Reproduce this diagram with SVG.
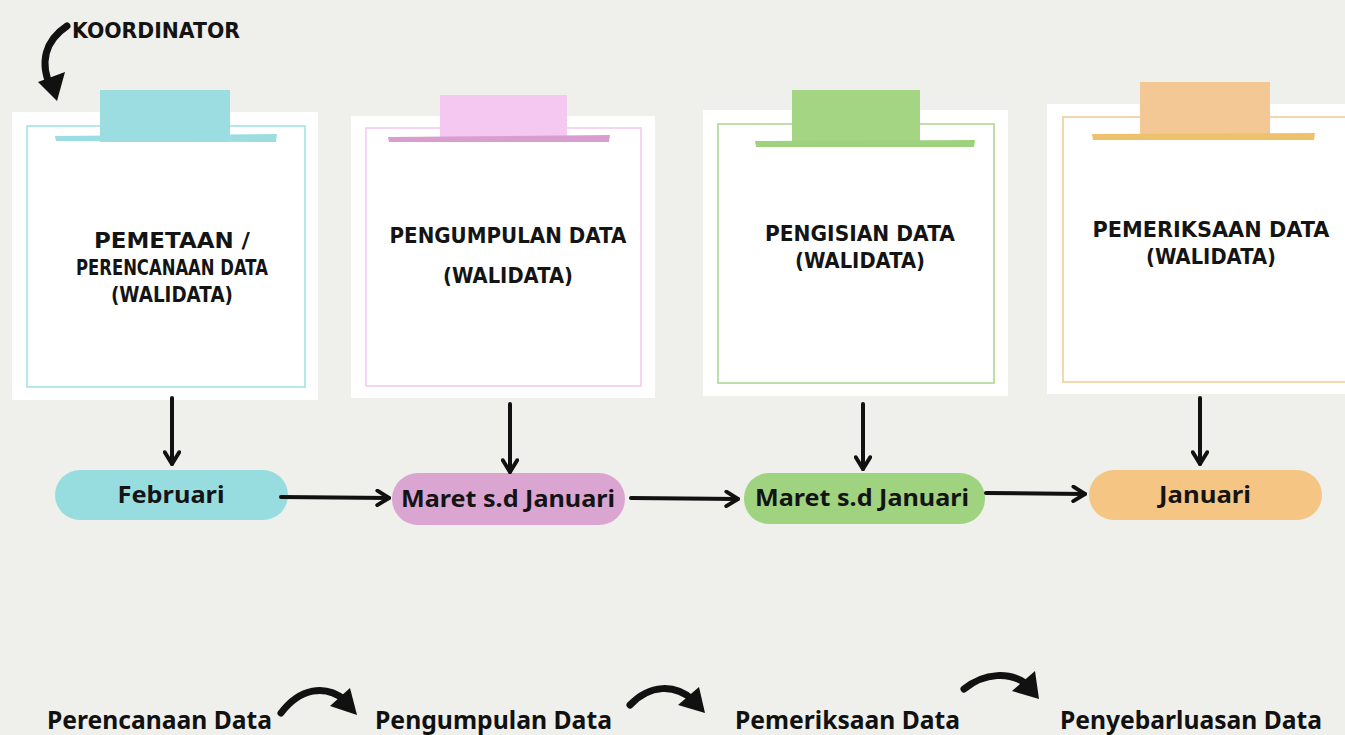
<svg xmlns="http://www.w3.org/2000/svg" width="1345" height="735" viewBox="0 0 1345 735">
<defs>
<style>
.paper{fill:#ffffff}
.tt{font-family:"DejaVu Sans","Liberation Sans",sans-serif;font-weight:bold;font-size:22px;fill:#141414;text-anchor:middle}
.pl{font-family:"Noto Sans","Open Sans","Liberation Sans",sans-serif;font-weight:bold;font-size:24px;fill:#141414;text-anchor:middle}
.bt{font-family:"Noto Sans","Open Sans","Liberation Sans",sans-serif;font-weight:bold;font-size:25px;fill:#111111}
.con{stroke:#111;stroke-width:4;fill:none;stroke-linecap:round}
.brush{fill:none;stroke:#111;stroke-width:7;stroke-linecap:round}
</style>
<marker id="ah" viewBox="0 0 10 10" refX="8" refY="5" markerWidth="4.5" markerHeight="4.5" orient="auto" markerUnits="strokeWidth">
<path d="M1.5,1 L8,5 L1.5,9" fill="none" stroke="#111" stroke-width="2.2" stroke-linecap="round" stroke-linejoin="round"/>
</marker>
</defs>
<rect width="1345" height="735" fill="#efefeb"/>

<g id="koordinator">
<text x="72" y="38" font-family="DejaVu Sans, Liberation Sans, sans-serif" font-weight="bold" font-size="22" fill="#141414" textLength="168" lengthAdjust="spacingAndGlyphs">KOORDINATOR</text>
<path d="M67,26 C46,40 38,62 52,90" class="brush" stroke-width="7"/>
<path d="M38,82 L57,101 L65,72 Z" fill="#111"/>
</g>

<g id="card1">
<rect class="paper" x="12" y="112" width="306" height="288"/>
<rect x="27" y="126" width="278" height="261" fill="none" stroke="#9edfe2" stroke-width="1.5"/>
<rect x="100" y="90" width="130" height="52" fill="#9bdde0"/>
<path d="M55,136 L277,134 L276,142 L56,141 Z" fill="#9bdde0"/>
<text class="tt" x="172" y="248" textLength="156" lengthAdjust="spacingAndGlyphs">PEMETAAN /</text>
<text class="tt" x="172" y="275" textLength="192" lengthAdjust="spacingAndGlyphs">PERENCANAAN DATA</text>
<text class="tt" x="172" y="302" textLength="122" lengthAdjust="spacingAndGlyphs">(WALIDATA)</text>
</g>

<g id="card2">
<rect class="paper" x="351" y="116" width="304" height="282"/>
<rect x="366" y="128" width="275" height="258" fill="none" stroke="#f1c8ee" stroke-width="1.5"/>
<rect x="440" y="95" width="127" height="45" fill="#f5c8f1"/>
<path d="M388,137 L610,135 L609,142 L389,142 Z" fill="#d99ed0"/>
<text class="tt" x="508" y="243" textLength="237" lengthAdjust="spacingAndGlyphs">PENGUMPULAN DATA</text>
<text class="tt" x="508" y="283" textLength="130" lengthAdjust="spacingAndGlyphs">(WALIDATA)</text>
</g>

<g id="card3">
<rect class="paper" x="703" y="110" width="305" height="286"/>
<rect x="718" y="124" width="276" height="259" fill="none" stroke="#a9d48f" stroke-width="1.5"/>
<rect x="792" y="90" width="128" height="52" fill="#a3d582"/>
<path d="M755,141 L975,140 L974,147 L756,147 Z" fill="#9fd27e"/>
<text class="tt" x="860" y="241" textLength="190" lengthAdjust="spacingAndGlyphs">PENGISIAN DATA</text>
<text class="tt" x="860" y="268" textLength="130" lengthAdjust="spacingAndGlyphs">(WALIDATA)</text>
</g>

<g id="card4">
<rect class="paper" x="1047" y="104" width="298" height="290"/>
<rect x="1063" y="117" width="290" height="265" fill="none" stroke="#f0cc95" stroke-width="1.5"/>
<rect x="1140" y="82" width="130" height="52" fill="#f4c894"/>
<path d="M1092,134 L1315,133 L1314,140 L1093,140 Z" fill="#eec26d"/>
<text class="tt" x="1211" y="237" textLength="237" lengthAdjust="spacingAndGlyphs">PEMERIKSAAN DATA</text>
<text class="tt" x="1211" y="264" textLength="130" lengthAdjust="spacingAndGlyphs">(WALIDATA)</text>
</g>

<g id="pill1">
<rect x="55" y="470" width="233" height="50" rx="25" fill="#97dcdf"/>
<text class="pl" x="171" y="503" textLength="107" lengthAdjust="spacingAndGlyphs">Februari</text>
</g>
<g id="pill2">
<rect x="392" y="473" width="233" height="52" rx="26" fill="#dba5d2"/>
<text class="pl" x="508" y="507" textLength="214" lengthAdjust="spacingAndGlyphs">Maret s.d Januari</text>
</g>
<g id="pill3">
<rect x="744" y="473" width="241" height="51" rx="25" fill="#a0d37f"/>
<text class="pl" x="862" y="506" textLength="214" lengthAdjust="spacingAndGlyphs">Maret s.d Januari</text>
</g>
<g id="pill4">
<rect x="1089" y="470" width="233" height="50" rx="25" fill="#f5c683"/>
<text class="pl" x="1205" y="503" textLength="92" lengthAdjust="spacingAndGlyphs">Januari</text>
</g>

<g id="connectors">
<line class="con" x1="172" y1="398" x2="172" y2="464" marker-end="url(#ah)"/>
<line class="con" x1="510" y1="404" x2="510" y2="472" marker-end="url(#ah)"/>
<line class="con" x1="863" y1="404" x2="863" y2="469" marker-end="url(#ah)"/>
<line class="con" x1="1200" y1="398" x2="1200" y2="464" marker-end="url(#ah)"/>
<line class="con" x1="281" y1="497" x2="389" y2="498" marker-end="url(#ah)"/>
<line class="con" x1="631" y1="498" x2="738" y2="499" marker-end="url(#ah)"/>
<line class="con" x1="986" y1="493" x2="1085" y2="494" marker-end="url(#ah)"/>
</g>

<g id="bottom">
<text class="bt" x="47" y="729" textLength="225" lengthAdjust="spacingAndGlyphs">Perencanaan Data</text>
<text class="bt" x="375" y="729" textLength="237" lengthAdjust="spacingAndGlyphs">Pengumpulan Data</text>
<text class="bt" x="735" y="729" textLength="225" lengthAdjust="spacingAndGlyphs">Pemeriksaan Data</text>
<text class="bt" x="1060" y="729" textLength="262" lengthAdjust="spacingAndGlyphs">Penyebarluasan Data</text>
<path class="brush" d="M281,713 C300,688 325,684 345,700"/>
<path d="M330,706 L357,715 L350,688 Z" fill="#111"/>
<path class="brush" d="M630,705 C650,684 675,684 693,700"/>
<path d="M678,705 L705,713 L699,687 Z" fill="#111"/>
<path class="brush" d="M964,689 C985,672 1010,672 1027,684"/>
<path d="M1012,691 L1039,699 L1035,671 Z" fill="#111"/>
</g>
</svg>
